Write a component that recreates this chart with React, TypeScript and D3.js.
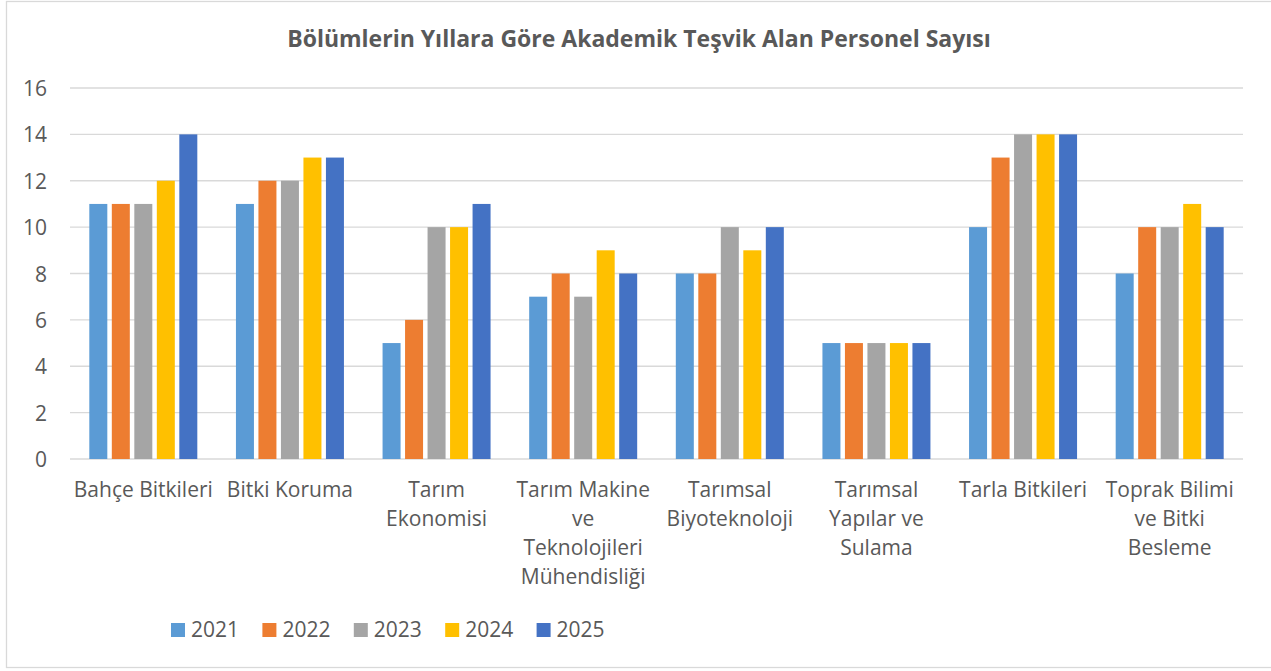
import React, { useEffect, useRef } from "react";
import * as d3 from "d3";

const categories: string[][] = [
  ["Bahçe Bitkileri"],
  ["Bitki Koruma"],
  ["Tarım", "Ekonomisi"],
  ["Tarım Makine", "ve", "Teknolojileri", "Mühendisliği"],
  ["Tarımsal", "Biyoteknoloji"],
  ["Tarımsal", "Yapılar ve", "Sulama"],
  ["Tarla Bitkileri"],
  ["Toprak Bilimi", "ve Bitki", "Besleme"],
];
const years = ["2021", "2022", "2023", "2024", "2025"];
const v2021 = [11, 11, 5, 7, 8, 5, 10, 8];
const v2022 = [11, 12, 6, 8, 8, 5, 13, 10];
const v2023 = [11, 12, 10, 7, 10, 5, 14, 10];
const v2024 = [12, 13, 10, 9, 9, 5, 14, 11];
const v2025 = [14, 13, 11, 8, 10, 5, 14, 10];
const series = [v2021, v2022, v2023, v2024, v2025];
const colors = ["#5B9BD5", "#ED7D31", "#A5A5A5", "#FFC000", "#4472C4"];
const yTicks = [0, 2, 4, 6, 8, 10, 12, 14, 16];
const title = "Bölümlerin Yıllara Göre Akademik Teşvik Alan Personel Sayısı";

const W = 1271, H = 671;
const FONT = "'Open Sans', 'Noto Sans', sans-serif";
const TXT = "#595959";

export default function App() {
  const ref = useRef<SVGSVGElement>(null);
  useEffect(() => {
    const svg = d3.select(ref.current);
    svg.selectAll("*").remove();
    const left = 70, right = 1243, top = 88, bottom = 459;
    const x = d3.scaleBand<number>().domain(d3.range(categories.length)).range([left, right]).paddingInner(0).paddingOuter(0);
    const y = d3.scaleLinear().domain([0, 16]).range([bottom, top]);
    const groupW = 108;
    const x1 = d3.scaleBand<number>().domain(d3.range(years.length)).range([0, groupW]).paddingInner(0.2).paddingOuter(0);

    svg.append("rect").attr("x", 6.5).attr("y", 1.5).attr("width", 1300).attr("height", 666)
      .attr("fill", "#fff").attr("stroke", "#d9d9d9").attr("stroke-width", 1.3);

    svg.append("text").attr("x", 639).attr("y", 47).attr("text-anchor", "middle")
      .attr("font-family", FONT).attr("font-weight", "bold").attr("font-size", 23)
      .attr("fill", TXT).text(title);

    svg.append("g").selectAll("line").data(yTicks).join("line")
      .attr("x1", left).attr("x2", right).attr("y1", d => y(d)).attr("y2", d => y(d))
      .attr("stroke", "#d9d9d9").attr("stroke-width", 1.3);

    svg.append("g").selectAll("text").data(yTicks).join("text")
      .attr("x", 47).attr("y", d => y(d) + 8).attr("text-anchor", "end")
      .attr("font-family", FONT).attr("font-size", 21).attr("fill", TXT).text(d => d);

    const g = svg.append("g");
    categories.forEach((_, ci) => {
      const cx = x(ci)! + x.bandwidth() / 2 - groupW / 2;
      series.forEach((s, si) => {
        g.append("rect")
          .attr("x", cx + x1(si)!).attr("width", x1.bandwidth())
          .attr("y", y(s[ci])).attr("height", y(0) - y(s[ci]))
          .attr("fill", colors[si]);
      });
    });

    const lab = svg.append("g");
    categories.forEach((lines, ci) => {
      const t = lab.append("text").attr("text-anchor", "middle")
        .attr("font-family", FONT).attr("font-size", 21).attr("fill", TXT);
      lines.forEach((ln, li) => {
        t.append("tspan").attr("x", x(ci)! + x.bandwidth() / 2).attr("y", 497 + li * 29).text(ln);
      });
    });

    const leg = svg.append("g");
    years.forEach((yr, i) => {
      const lx = 171 + i * 91.4;
      leg.append("rect").attr("x", lx).attr("y", 623).attr("width", 14).attr("height", 14).attr("fill", colors[i]);
      leg.append("text").attr("x", lx + 20).attr("y", 637).attr("font-family", FONT)
        .attr("font-size", 21).attr("fill", TXT).text(yr);
    });
  }, []);
  return <svg ref={ref} width={W} height={H} style={{ position: "absolute", left: 0, top: 0 }} />;
}
